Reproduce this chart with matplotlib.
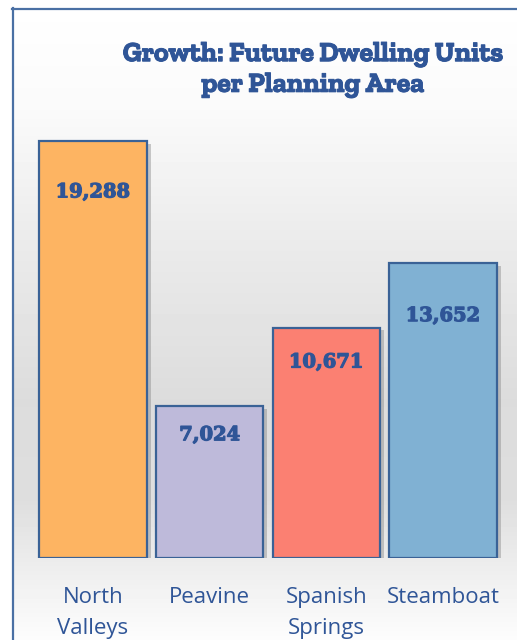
import numpy as np
import matplotlib
matplotlib.use("Agg")
import matplotlib.pyplot as plt
import matplotlib.patheffects as pe
from matplotlib.lines import Line2D

# data
areas = ["North\nValleys", "Peavine", "Spanish\nSprings", "Steamboat"]
units = [19288, 7024, 10671, 13652]
bar_colors = ["#FDB462", "#BEBADA", "#FB8072", "#80B1D3"]
label_drop_px = [51, 29, 35, 53]   # how far below bar top each value label sits

text_blue = "#2F5597"
edge_blue = "#3A6296"
heavy = [pe.withStroke(linewidth=0.9, foreground=text_blue)]

W, H = 517, 640
fig = plt.figure(figsize=(W / 100, H / 100), dpi=100)

# background: vertical grey gradient inside the frame
bg = fig.add_axes([0, 0, 1, 1], zorder=0)
rows = np.arange(H)
stops_y = [0, 110, 230, 400, 500, 570, 640]
stops_v = [255, 250, 236, 220, 222, 238, 253]
grey = np.interp(rows, stops_y, stops_v) / 255.0
img = np.repeat(grey[:, None], W, axis=1)
img[:8, :] = 1.0
img[:, :12] = 1.0
bg.imshow(img, cmap="gray", vmin=0, vmax=1, aspect="auto",
          extent=(0, W, H, 0), interpolation="bilinear")
bg.set_xlim(0, W)
bg.set_ylim(H, 0)
bg.axis("off")
bg.add_line(Line2D([12.5, 12.5], [8, H + 5], color="#4A70A4", lw=1.6))
bg.add_line(Line2D([12, W + 5], [8.5, 8.5], color="#4A70A4", lw=1.6))

# bars
ax = fig.add_axes([34.5 / W, 82 / H, 467 / W, 432 / H], zorder=1)
ax.patch.set_alpha(0)
x = np.arange(len(units))
bars = ax.bar(x, units, width=0.92, color=bar_colors, edgecolor=edge_blue,
              linewidth=1.6)
for b in bars:
    b.set_path_effects([pe.SimplePatchShadow(offset=(3, -2), shadow_rgbFace="#7f7f7f", alpha=0.4),
                        pe.Normal()])

for xi, v, d in zip(x, units, label_drop_px):
    ax.annotate(f"{v:,}", (xi, v), xytext=(0, -d * 0.72), textcoords="offset points",
                ha="center", va="center", fontsize=14, fontweight="bold",
                family=["DejaVu Serif"], color=text_blue, path_effects=heavy)

ax.set_xlim(-0.5, 3.5)
ax.set_ylim(0, 20000)
ax.set_xticks(x)
ax.set_xticklabels(areas, fontsize=16, color=text_blue, linespacing=1.6,
                   family=["Open Sans", "DejaVu Sans"])
ax.tick_params(axis="x", length=0, pad=21)
ax.set_yticks([])
for s in ax.spines.values():
    s.set_visible(False)

fig.text(313 / W, 1 - 70 / H, "Growth: Future Dwelling Units\nper Planning Area",
         ha="center", va="center", fontsize=20, fontweight="bold",
         family=["Zilla Slab", "DejaVu Serif"], color=text_blue, linespacing=1.3,
         path_effects=[pe.withStroke(linewidth=0.7, foreground=text_blue)])

fig.savefig("out.png", dpi=100)
